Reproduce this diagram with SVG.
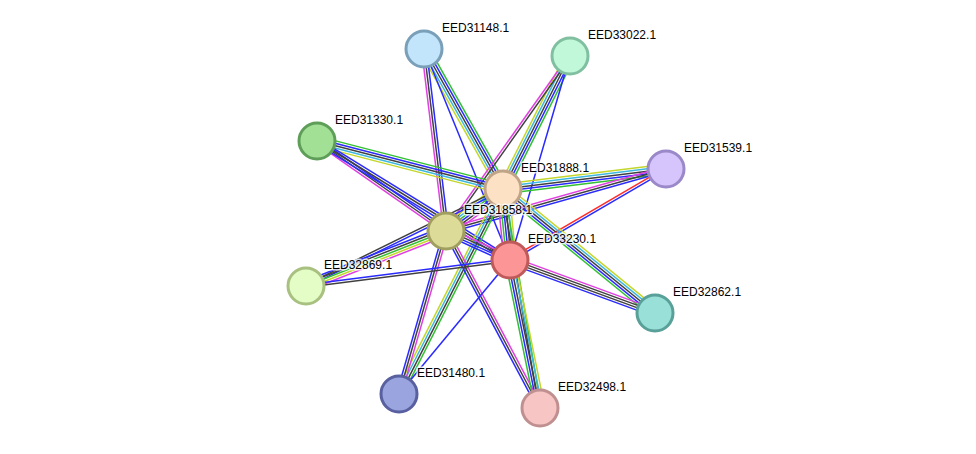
<svg xmlns="http://www.w3.org/2000/svg" width="976" height="454" viewBox="0 0 976 454">
<style>
path{fill:none;stroke-width:1.5}
.g{stroke:#33c033}.b{stroke:#2a2aff}.k{stroke:#404040}.m{stroke:#e040e0}.c{stroke:#3cb8e0}.y{stroke:#c4d62a}.r{stroke:#ff2a2a}
circle{stroke-width:3}
text{font-family:"Liberation Sans",Arial,sans-serif;font-size:12px;fill:#000;stroke:#fff;stroke-width:3;stroke-opacity:0.8;paint-order:stroke;stroke-linejoin:round}
</style>
<rect width="976" height="454" fill="#fff"/>
<g id="edges">
<g transform="translate(424,49) rotate(60.57)"><path class="g" d="M0 -4.8h160.8"/><path class="b" d="M0 -2.4h160.8"/><path class="k" d="M0 0h160.8"/><path class="c" d="M0 2.4h160.8"/><path class="y" d="M0 4.8h160.8"/></g>
<g transform="translate(424,49) rotate(83.11)"><path class="m" d="M0 2.4h183.3"/><path class="k" d="M0 0h183.3"/><path class="b" d="M0 -2.4h183.3"/></g>
<g transform="translate(424,49) rotate(67.83)"><path class="b" d="M0 0h227.9"/></g>
<g transform="translate(570,56) rotate(116.73)"><path class="g" d="M0 -4.8h148.9"/><path class="b" d="M0 -2.4h148.9"/><path class="k" d="M0 0h148.9"/><path class="c" d="M0 2.4h148.9"/><path class="y" d="M0 4.8h148.9"/></g>
<g transform="translate(570,56) rotate(125.33)"><path class="k" d="M0 -1.2h214.5"/><path class="m" d="M0 1.2h214.5"/></g>
<g transform="translate(570,56) rotate(106.39)"><path class="b" d="M0 0h212.6"/></g>
<g transform="translate(317,141) rotate(14.47)"><path class="g" d="M0 -4.8h192.1"/><path class="b" d="M0 -2.4h192.1"/><path class="k" d="M0 0h192.1"/><path class="c" d="M0 2.4h192.1"/><path class="y" d="M0 4.8h192.1"/></g>
<g transform="translate(317,141) rotate(34.90)"><path class="b" d="M0 -2.4h157.3"/><path class="k" d="M0 0h157.3"/><path class="m" d="M0 2.4h157.3"/></g>
<g transform="translate(317,141) rotate(31.66)"><path class="b" d="M0 -2.4h226.7"/><path class="k" d="M0 0h226.7"/><path class="b" d="M0 2.4h226.7"/></g>
<g transform="translate(666,169) rotate(173.0)"><path class="g" d="M0 -4.8h164.2"/><path class="b" d="M0 -2.4h164.2"/><path class="k" d="M0 0h164.2"/><path class="c" d="M0 2.4h164.2"/><path class="y" d="M0 4.8h164.2"/></g>
<g transform="translate(666,169) rotate(164.26)"><path class="b" d="M0 -2.4h228.6"/><path class="k" d="M0 0h228.6"/><path class="m" d="M0 2.4h228.6"/></g>
<g transform="translate(666,169) rotate(149.74)"><path class="b" d="M0 -1.2h180.6"/><path class="r" d="M0 1.2h180.6"/></g>
<g transform="translate(503,189) rotate(143.62)"><path class="m" d="M0 -6h70.8"/><path class="k" d="M0 -3.6h70.8"/><path class="b" d="M0 -1.2h70.8"/><path class="g" d="M0 1.2h70.8"/><path class="c" d="M0 3.6h70.8"/><path class="y" d="M0 6h70.8"/></g>
<g transform="translate(503,189) rotate(84.37)"><path class="y" d="M0 -6h71.3"/><path class="c" d="M0 -3.6h71.3"/><path class="k" d="M0 -1.2h71.3"/><path class="b" d="M0 1.2h71.3"/><path class="g" d="M0 3.6h71.3"/><path class="m" d="M0 6h71.3"/></g>
<g transform="translate(503,189) rotate(39.21)"><path class="y" d="M0 -4.8h196.2"/><path class="c" d="M0 -2.4h196.2"/><path class="k" d="M0 0h196.2"/><path class="b" d="M0 2.4h196.2"/><path class="g" d="M0 4.8h196.2"/></g>
<g transform="translate(503,189) rotate(80.41)"><path class="g" d="M0 -1.2h222.1"/><path class="k" d="M0 1.2h222.1"/></g>
<g transform="translate(503,189) rotate(116.90)"><path class="g" d="M0 -3.6h229.9"/><path class="k" d="M0 -1.2h229.9"/><path class="c" d="M0 1.2h229.9"/><path class="y" d="M0 3.6h229.9"/></g>
<g transform="translate(503,189) rotate(153.78)"><path class="b" d="M0 -1.2h219.6"/><path class="k" d="M0 1.2h219.6"/></g>
<g transform="translate(446,231) rotate(24.38)"><path class="m" d="M0 -3.6h70.3"/><path class="k" d="M0 -1.2h70.3"/><path class="b" d="M0 1.2h70.3"/><path class="b" d="M0 3.6h70.3"/></g>
<g transform="translate(446,231) rotate(158.55)"><path class="m" d="M0 -4.8h150.4"/><path class="y" d="M0 -2.4h150.4"/><path class="g" d="M0 0h150.4"/><path class="k" d="M0 2.4h150.4"/><path class="b" d="M0 4.8h150.4"/></g>
<g transform="translate(446,231) rotate(106.08)"><path class="m" d="M0 -2.4h169.6"/><path class="k" d="M0 0h169.6"/><path class="b" d="M0 2.4h169.6"/></g>
<g transform="translate(446,231) rotate(62.03)"><path class="m" d="M0 -2.4h200.4"/><path class="k" d="M0 0h200.4"/><path class="b" d="M0 2.4h200.4"/></g>
<g transform="translate(510,260) rotate(20.08)"><path class="m" d="M0 -3.6h154.4"/><path class="k" d="M0 -1.2h154.4"/><path class="k" d="M0 1.2h154.4"/><path class="b" d="M0 3.6h154.4"/></g>
<g transform="translate(510,260) rotate(78.54)"><path class="y" d="M0 -4.8h151"/><path class="c" d="M0 -2.4h151"/><path class="k" d="M0 0h151"/><path class="b" d="M0 2.4h151"/><path class="g" d="M0 4.8h151"/></g>
<g transform="translate(510,260) rotate(129.64)"><path class="b" d="M0 0h174"/></g>
<g transform="translate(510,260) rotate(172.74)"><path class="k" d="M0 -1.2h205.7"/><path class="b" d="M0 1.2h205.7"/></g>
</g>
<g id="n31148"><circle cx="424" cy="49" r="18" fill="#c2e5fb" stroke="#7a9fb8"/><text x="442" y="32">EED31148.1</text></g>
<g id="n33022"><circle cx="570" cy="56" r="18" fill="#c2f8da" stroke="#80c0a0"/><text x="588" y="39">EED33022.1</text></g>
<g id="n31330"><circle cx="317" cy="141" r="18" fill="#a2e095" stroke="#5f9e58"/><text x="335" y="124">EED31330.1</text></g>
<g id="n31539"><circle cx="666" cy="169" r="18" fill="#d5c5fc" stroke="#9a88c8"/><text x="684" y="152">EED31539.1</text></g>
<g id="n31888"><circle cx="503" cy="189" r="18" fill="#fde1c5" stroke="#c0a488"/><text x="521" y="172">EED31888.1</text></g>
<g id="n31858"><circle cx="446" cy="231" r="18" fill="#dcdb98" stroke="#a09f60"/><text x="464" y="214">EED31858.1</text></g>
<g id="n33230"><circle cx="510" cy="260" r="18" fill="#fc9696" stroke="#c05a5a"/><text x="528" y="243">EED33230.1</text></g>
<g id="n32869"><circle cx="306" cy="286" r="18" fill="#e4fcc5" stroke="#a8c080"/><text x="324" y="269">EED32869.1</text></g>
<g id="n32862"><circle cx="655" cy="313" r="18" fill="#99e0d8" stroke="#58a098"/><text x="673" y="296">EED32862.1</text></g>
<g id="n31480"><circle cx="399" cy="394" r="18" fill="#9aa5e0" stroke="#5860a0"/><text x="417" y="377">EED31480.1</text></g>
<g id="n32498"><circle cx="540" cy="408" r="18" fill="#f8c5c5" stroke="#c09090"/><text x="558" y="391">EED32498.1</text></g>
</svg>
